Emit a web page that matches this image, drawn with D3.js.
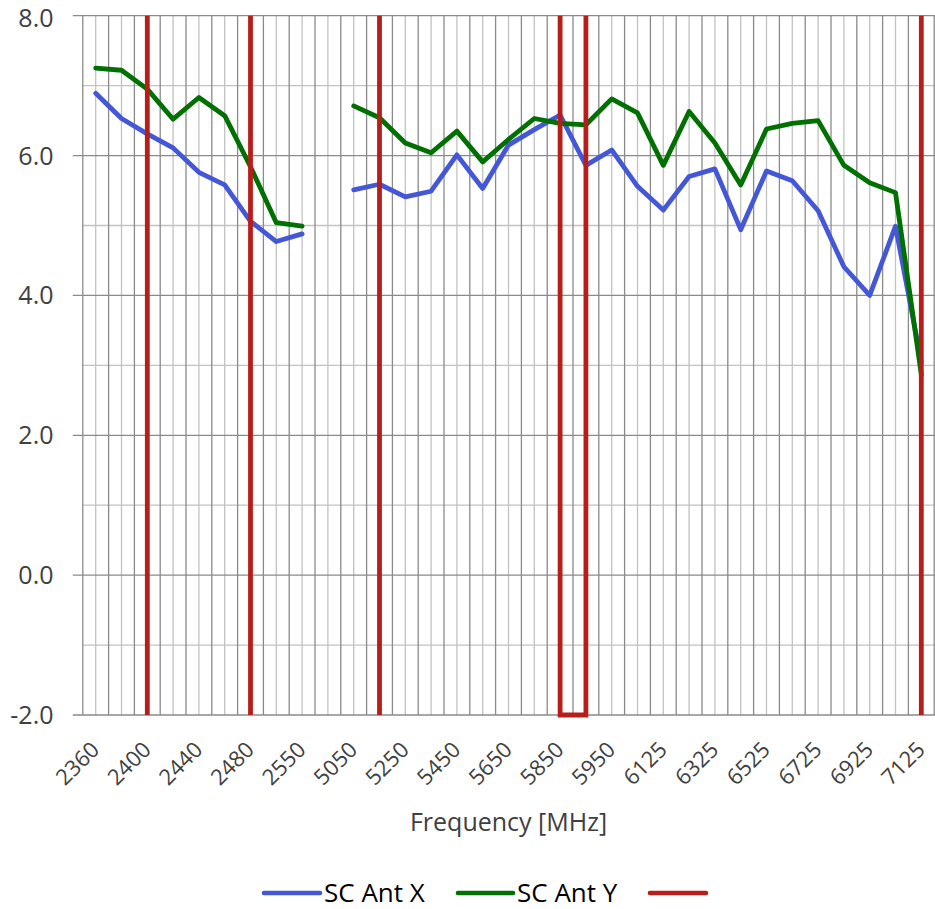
<!DOCTYPE html>
<html>
<head>
<meta charset="utf-8">
<script src="https://cdn.jsdelivr.net/npm/d3@7"></script>
<style>
  html, body { margin: 0; padding: 0; background: #fff; }
  svg { display: block; }
</style>
</head>
<body>
<svg id="chart" width="935" height="909"></svg>
<script>
// ---- data ----
const categories = ["2360","2380","2400","2420","2440","2460","2480","2500","2550","",
  "5050","5150","5250","5350","5450","5550","5650","5750","5850","5925","5950","6025",
  "6125","6225","6325","6425","6525","6625","6725","6825","6925","7025","7125"];
const tickLabels = ["2360","2400","2440","2480","2550","5050","5250","5450","5650",
  "5850","5950","6125","6325","6525","6725","6925","7125"];
const antX = [6.89,6.53,6.31,6.11,5.76,5.58,5.06,4.77,4.88,null,
  5.51,5.59,5.41,5.49,6.01,5.53,6.15,6.37,6.58,5.86,6.08,5.56,
  5.22,5.70,5.81,4.94,5.78,5.64,5.21,4.41,4.00,4.99,3.05];
const antY = [7.25,7.22,6.95,6.52,6.83,6.57,5.84,5.04,4.99,null,
  6.71,6.54,6.18,6.04,6.35,5.91,6.23,6.53,6.46,6.44,6.81,6.61,
  5.86,6.63,6.18,5.58,6.38,6.46,6.50,5.86,5.61,5.47,2.87];
// band-edge markers (red series): each a polyline of [category, value]
const bandMarkers = [
  [["2400", 8], ["2400", -2]],
  [["2480", 8], ["2480", -2]],
  [["5150", 8], ["5150", -2]],
  [["5850", 8], ["5850", -2], ["5925", -2], ["5925", 8]],
  [["7125", 8], ["7125", -2]]
];
const yTicks = [-2, 0, 2, 4, 6, 8];
const yMinor = [-1, 1, 3, 5, 7];
const seriesNames = ["SC Ant X", "SC Ant Y", ""];
const colors = ["#4457D7", "#007000", "#B81E19"];
const xTitle = "Frequency [MHz]";

// ---- layout ----
(function () {
const svg = d3.select("#chart");
const pLeft = 82.8, pRight = 934.2, pTop = 15.7, pBottom = 715;
const x = d3.scaleBand().domain(categories).range([pLeft, pRight]).padding(0);
const cx = c => x(c) + x.bandwidth() / 2;
const y = d3.scaleLinear().domain([-2, 8]).range([pBottom, pTop]);
const FONT = "'Open Sans', 'Noto Sans', sans-serif";
const fmt = d3.formatLocale({ decimal: ".", thousands: ",", grouping: [3], currency: ["", ""], minus: "-" }).format(".1f");

const grid = svg.append("g");
// minor horizontal
grid.selectAll("line.hmin").data(yMinor).join("line")
  .attr("x1", pLeft).attr("x2", 935)
  .attr("y1", d => y(d)).attr("y2", d => y(d))
  .attr("stroke", "#c2c2c2").attr("stroke-width", 1.3);
// minor vertical at category centres
grid.selectAll("line.vmin").data(categories).join("line")
  .attr("x1", d => cx(d)).attr("x2", d => cx(d))
  .attr("y1", pTop).attr("y2", pBottom)
  .attr("stroke", "#c2c2c2").attr("stroke-width", 1.3);
// major vertical at category boundaries
const bounds = categories.map(c => x(c)).concat([pRight]);
grid.selectAll("line.vmaj").data(bounds).join("line")
  .attr("x1", d => d).attr("x2", d => d)
  .attr("y1", pTop).attr("y2", pBottom)
  .attr("stroke", "#8a8a8a").attr("stroke-width", 1.3);
// major horizontal
grid.selectAll("line.hmaj").data(yTicks).join("line")
  .attr("x1", pLeft - 10).attr("x2", 935)
  .attr("y1", d => y(d)).attr("y2", d => y(d))
  .attr("stroke", "#8a8a8a").attr("stroke-width", 1.3);

// y labels (baseline kept low enough that the text box stays inside the page)
const yFs = 25;
svg.append("g").selectAll("text").data(yTicks).join("text")
  .attr("x", 53.5).attr("y", d => Math.max(y(d) + 0.36 * yFs, 1.08 * yFs))
  .attr("text-anchor", "end")
  .attr("font-family", FONT).attr("font-size", yFs).attr("fill", "#404040")
  .text(d => fmt(d));

// x labels
svg.append("g").selectAll("text").data(tickLabels).join("text")
  .attr("transform", d => `translate(${cx(d) + 5},751) rotate(-45)`)
  .attr("text-anchor", "end")
  .attr("font-family", FONT).attr("font-size", 22).attr("fill", "#404040")
  .text(d => d);

// x title
svg.append("text")
  .attr("x", (pLeft + pRight) / 2).attr("y", 831)
  .attr("text-anchor", "middle")
  .attr("font-family", FONT).attr("font-size", 25).attr("fill", "#404040")
  .text(xTitle);

// series lines
const line = d3.line()
  .defined(d => d.v !== null)
  .x(d => cx(d.c)).y(d => y(d.v));
[antX, antY].forEach((vals, i) => {
  svg.append("path")
    .datum(categories.map((c, j) => ({ c, v: vals[j] })))
    .attr("d", line)
    .attr("fill", "none").attr("stroke", colors[i])
    .attr("stroke-width", 4.8)
    .attr("stroke-linejoin", "round").attr("stroke-linecap", "round");
});

// red band markers
const redLine = d3.line().x(d => cx(d[0])).y(d => y(d[1]));
svg.append("g").selectAll("path").data(bandMarkers).join("path")
  .attr("d", redLine)
  .attr("fill", "none").attr("stroke", colors[2])
  .attr("stroke-width", 4.8).attr("stroke-linejoin", "miter");

// legend
const legendItems = [
  { x0: 264, x1: 320, tx: 324 },
  { x0: 458, x1: 513, tx: 517 },
  { x0: 650, x1: 706, tx: null }
];
const lg = svg.append("g");
legendItems.forEach((it, i) => {
  lg.append("line")
    .attr("x1", it.x0).attr("x2", it.x1).attr("y1", 893).attr("y2", 893)
    .attr("stroke", colors[i]).attr("stroke-width", 4.6).attr("stroke-linecap", "round");
  if (seriesNames[i]) {
    lg.append("text")
      .attr("x", it.tx).attr("y", 901.5)
      .attr("font-family", FONT).attr("font-size", 26).attr("fill", "#000")
      .text(seriesNames[i]);
  }
});
})();
</script>
</body>
</html>
